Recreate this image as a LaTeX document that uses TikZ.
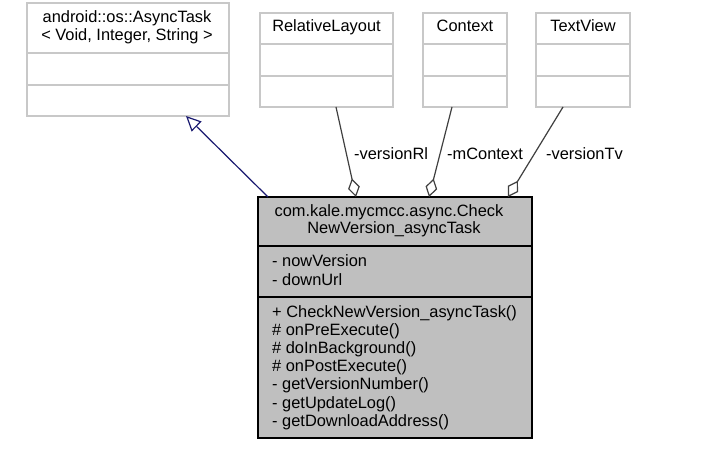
\documentclass[tikz,border=0pt]{standalone}
\usepackage{fontspec}
\setmainfont{Liberation Sans}
\usetikzlibrary{arrows.meta,calc}
\definecolor{boxgray}{RGB}{191,191,191}
\definecolor{lightline}{RGB}{200,200,200}
\definecolor{navyline}{RGB}{25,25,112}
\definecolor{aggline}{RGB}{64,64,64}
\begin{document}
\begin{tikzpicture}[x=1pt,y=-1pt,
  txt/.style={inner sep=0pt,font=\fontsize{16.4}{18}\selectfont},
  classbox/.style={draw=lightline,line width=1.3pt,fill=white},
  mainbox/.style={draw=black,line width=1.3pt,fill=boxgray},
  inherit/.style={draw=navyline,line width=1.2pt,-{Triangle[open,length=15pt,width=14pt,line width=1.2pt]}},
  aggr/.style={draw=aggline,line width=1.2pt,-{Diamond[open,length=19pt,width=12pt,line width=1.2pt]}}]
\useasboundingbox (0,0) rectangle (701,454);
\fill[white] (0,0) rectangle (701,454);
% AsyncTask
\path[classbox] (27,3) rectangle (229,116);
\node[inner sep=0pt,minimum width=202pt,minimum height=113pt] (async) at (128,59.5) {};
\draw[lightline,line width=1.3pt] (27,53) -- (229,53) (27,85) -- (229,85);
\node[txt,anchor=base] (asyncA) at (127,23) {android::os::AsyncTask};
\node[txt,anchor=base] (asyncB) at (127,41) {< Void, Integer, String >};
% RelativeLayout
\path[classbox] (260,13) rectangle (393,107);
\node[inner sep=0pt,minimum width=133pt,minimum height=94pt] (rl) at (326.5,60) {};
\draw[lightline,line width=1.3pt] (260,44) -- (393,44) (260,76) -- (393,76);
\node[txt,anchor=base] (rlT) at (326.5,32) {RelativeLayout};
% Context
\path[classbox] (423,13) rectangle (507,107);
\node[inner sep=0pt,minimum width=84pt,minimum height=94pt] (ctx) at (465,60) {};
\draw[lightline,line width=1.3pt] (423,44) -- (507,44) (423,76) -- (507,76);
\node[txt,anchor=base] (ctxT) at (465,32) {Context};
% TextView
\path[classbox] (536,13) rectangle (630,107);
\node[inner sep=0pt,minimum width=94pt,minimum height=94pt] (tv) at (583,60) {};
\draw[lightline,line width=1.3pt] (536,44) -- (630,44) (536,76) -- (630,76);
\node[txt,anchor=base] (tvT) at (583,32) {TextView};
% main class
\path[mainbox] (258,197) rectangle (532,438);
\node[inner sep=0pt,minimum width=274pt,minimum height=241pt] (main) at (395,317.5) {};
\draw[black,line width=1.3pt] (258,246) -- (532,246) (258,297) -- (532,297);
\node[txt,anchor=base] (mT1) at (389,217) {com.kale.mycmcc.async.Check};
\node[txt,anchor=base] (mT2) at (394,234) {NewVersion\_asyncTask};
\node[txt,anchor=base west] (a1) at (272,267) {- nowVersion};
\node[txt,anchor=base west] (a2) at (272,285) {- downUrl};
\foreach \t [count=\i from 0] in {{+ CheckNewVersion\_asyncTask()},{\# onPreExecute()},{\# doInBackground()},{\# onPostExecute()},{- getVersionNumber()},{- getUpdateLog()},{- getDownloadAddress()}}
  \node[txt,anchor=base west] (m\i) at (272,{317+18.2*\i}) {\t};
% connectors
\coordinate (inhS) at (268,197);
\coordinate (inhE) at (186,116);
\draw[inherit] (inhS) -- (inhE);
\coordinate (rlS) at (336,107);
\coordinate (rlE) at (356,197);
\draw[aggr] (rlS) -- (rlE);
\coordinate (ctxS) at (452,107);
\coordinate (ctxE) at (429,197);
\draw[aggr] (ctxS) -- (ctxE);
\coordinate (tvS) at (563,107);
\coordinate (tvE) at (508,197);
\draw[aggr] (tvS) -- (tvE);
\node[txt,anchor=base west] (l1) at (354,160) {-versionRl};
\node[txt,anchor=base west] (l2) at (447,160) {-mContext};
\node[txt,anchor=base west] (l3) at (546,160) {-versionTv};
\end{tikzpicture}
\end{document}
